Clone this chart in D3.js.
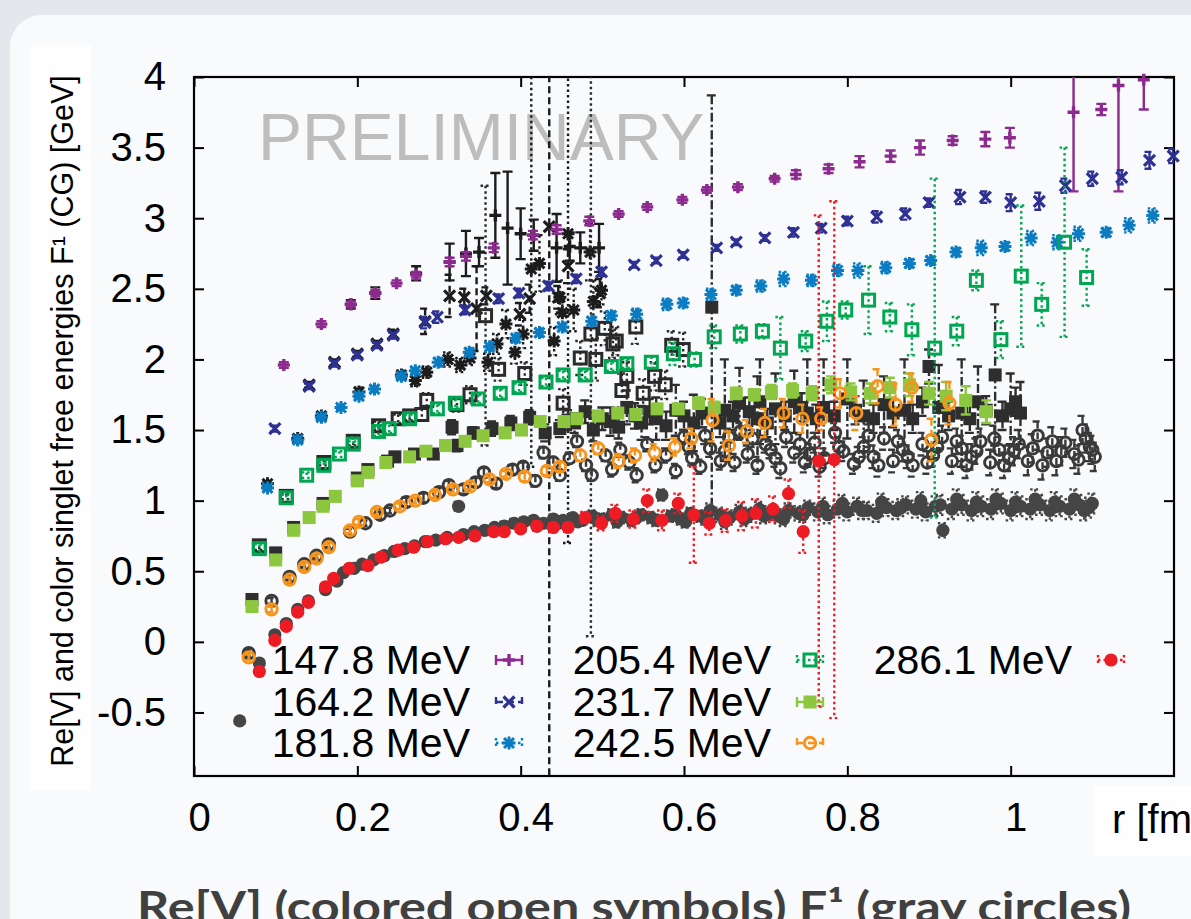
<!DOCTYPE html>
<html>
<head>
<meta charset="utf-8">
<script src="https://cdn.jsdelivr.net/npm/d3@7"></script>
<style>
  html, body { margin: 0; padding: 0; background: #e4e8ec; }
  svg { display: block; }
</style>
</head>
<body>
<svg id="chart" width="1191" height="919"></svg>
<script>
// data: [r (fm), value (GeV), error]
// Re[V], coloured symbols
const re1478 = [[.110,1.96,.02],[.156,2.25,.02],[.192,2.39,.02],[.222,2.47,.02],[.248,2.54,.02],[.272,2.60,.02],[.313,2.69,.03],[.333,2.73,.03],[.367,2.79,.03],[.415,2.88,.03],[.444,2.92,.03],[.484,2.98,.03],[.520,3.03,.02],[.555,3.08,.02],[.598,3.13,.02],[.628,3.20,.02],[.666,3.22,.02],[.711,3.28,.02],[.737,3.31,.03],[.777,3.35,.03],[.815,3.40,.04],[.853,3.44,.04],[.889,3.50,.05],[.929,3.55,.03],[.969,3.56,.05],[.999,3.57,.07],[1.077,3.75,.56],[1.111,3.77,.04],[1.132,3.94,.75],[1.163,3.98,.21]];
const re1642 = [[.099,1.51,.02],[.141,1.81,.02],[.172,1.97,.02],[.200,2.03,.02],[.224,2.10,.02],[.244,2.17,.02],[.283,2.26,.04],[.298,2.30,.04],[.332,2.35,.03],[.373,2.43,.03],[.398,2.47,.03],[.434,2.52,.03],[.468,2.57,.03],[.499,2.62,.03],[.539,2.67,.02],[.566,2.70,.02],[.599,2.74,.02],[.640,2.79,.02],[.664,2.83,.02],[.699,2.86,.02],[.734,2.90,.03],[.768,2.93,.03],[.800,2.98,.03],[.836,3.01,.04],[.871,3.03,.04],[.900,3.11,.03],[.938,3.15,.05],[.969,3.15,.04],[1.000,3.11,.06],[1.035,3.12,.06],[1.067,3.23,.05],[1.100,3.28,.05],[1.136,3.29,.05],[1.170,3.41,.06],[1.199,3.44,.05]];
const re1818 = [[.090,1.09,.02],[.127,1.43,.02],[.156,1.59,.02],[.180,1.66,.02],[.202,1.74,.02],[.221,1.79,.02],[.254,1.88,.02],[.271,1.92,.02],[.299,1.98,.03],[.337,2.05,.03],[.362,2.09,.03],[.394,2.15,.03],[.423,2.19,.03],[.451,2.23,.03],[.487,2.27,.03],[.511,2.31,.03],[.542,2.32,.04],[.579,2.39,.04],[.599,2.40,.03],[.633,2.46,.04],[.664,2.49,.03],[.694,2.52,.04],[.722,2.57,.05],[.756,2.56,.04],[.788,2.63,.04],[.813,2.63,.05],[.847,2.65,.04],[.876,2.68,.03],[.902,2.70,.03],[.933,2.76,.03],[.964,2.79,.05],[.993,2.80,.03],[1.025,2.86,.05],[1.057,2.83,.05],[1.083,2.89,.05],[1.117,2.90,.03],[1.145,2.95,.05],[1.174,3.02,.05]];
const re2054 = [[.080,0.66,.03],[.113,1.02,.02],[.138,1.18,.02],[.159,1.25,.02],[.178,1.33,.02],[.195,1.40,.02],[.226,1.49,.03],[.239,1.51,.03],[.264,1.58,.03],[.298,1.65,.03],[.320,1.69,.03],[.348,1.72,.03],[.375,1.76,.03],[.398,1.80,.03],[.431,1.84,.03],[.452,1.89,.03],[.479,1.89,.03],[.511,1.95,.03],[.530,1.97,.03],[.560,1.98,.04],[.587,2.04,.08],[.613,2.00,.05],[.637,2.16,.08],[.669,2.18,.06],[.696,2.20,.05],[.718,2.08,.22],[.749,2.13,.07],[.775,2.27,.14],[.798,2.35,.06],[.826,2.42,.24],[.852,2.30,.10],[.879,2.21,.18],[.907,2.08,1.2],[.934,2.20,.10],[.958,2.56,.07],[.988,2.14,.13],[1.013,2.59,.50],[1.038,2.39,.15],[1.066,2.83,.67],[1.093,2.58,.20]];
const re2317 = [[.071,0.25,.02],[.100,0.58,.02],[.122,0.79,.02],[.141,0.88,.02],[.158,0.96,.02],[.173,1.03,.02],[.200,1.14,.02],[.213,1.20,.02],[.235,1.27,.02],[.264,1.31,.02],[.284,1.35,.02],[.308,1.39,.02],[.332,1.42,.02],[.354,1.46,.02],[.381,1.48,.02],[.401,1.50,.02],[.424,1.56,.03],[.453,1.56,.03],[.469,1.58,.03],[.495,1.60,.03],[.519,1.62,.03],[.541,1.61,.03],[.567,1.65,.03],[.593,1.65,.03],[.618,1.69,.04],[.637,1.66,.04],[.664,1.76,.04],[.686,1.75,.04],[.707,1.77,.05],[.733,1.78,.05],[.757,1.76,.05],[.780,1.82,.06],[.804,1.77,.06],[.828,1.76,.07],[.852,1.80,.07],[.876,1.82,.08],[.900,1.76,.08],[.921,1.74,.10],[.945,1.71,.10],[.970,1.63,.08]];
const re2425 = [[.067,-0.11,.02],[.095,0.23,.02],[.117,0.44,.02],[.135,0.53,.02],[.150,0.59,.02],[.165,0.67,.02],[.191,0.79,.02],[.202,0.85,.02],[.224,0.92,.02],[.252,0.96,.02],[.271,1.00,.02],[.295,1.04,.02],[.317,1.08,.02],[.338,1.10,.02],[.362,1.15,.02],[.382,1.19,.02],[.405,1.17,.03],[.432,1.21,.03],[.448,1.24,.03],[.473,1.32,.04],[.495,1.37,.04],[.520,1.28,.05],[.540,1.32,.05],[.564,1.34,.06],[.589,1.38,.06],[.609,1.44,.07],[.635,1.57,.15],[.655,1.39,.10],[.677,1.49,.08],[.699,1.55,.10],[.722,1.62,.10],[.745,1.58,.10],[.768,1.58,.08],[.791,1.76,.10],[.811,1.62,.12],[.837,1.81,.12],[.859,1.68,.15],[.879,1.80,.10],[.903,1.43,.15],[.925,1.69,.15]];
const re2861 = [[.080,-0.21,.02],[.099,0.01,.02],[.113,0.11,.02],[.127,0.21,.02],[.140,0.28,.02],[.161,0.39,.02],[.171,0.45,.02],[.190,0.52,.02],[.213,0.54,.02],[.229,0.60,.02],[.250,0.65,.02],[.269,0.67,.02],[.286,0.71,.02],[.308,0.73,.02],[.324,0.74,.02],[.344,0.75,.02],[.367,0.78,.02],[.380,0.78,.02],[.400,0.80,.02],[.420,0.82,.03],[.440,0.81,.03],[.458,0.81,.03],[.479,0.88,.04],[.499,0.84,.05],[.516,0.91,.06],[.538,0.87,.06],[.555,1.00,.08],[.573,0.86,.07],[.593,0.98,.07],[.612,0.90,.34],[.631,0.84,.08],[.651,0.86,.08],[.671,0.89,.10],[.688,0.91,.10],[.709,0.94,.09],[.728,1.05,.10],[.746,0.78,.15],[.765,1.28,1.74],[.784,1.29,1.83]];

// F1 (CG), gray symbols
const f1478 = [[.192,2.39,.03],[.222,2.47,.04],[.272,2.61,.05],[.313,2.69,.13],[.333,2.75,.16],[.349,2.76,.10],[.369,3.02,.30],[.384,2.93,.40],[.400,2.89,.18],[.416,2.88,.11],[.444,2.79,.24],[.460,2.80,.10],[.473,2.79,.11],[.496,2.79,.17]];
const f1642 = [[.141,1.82,.02],[.172,1.98,.02],[.200,2.04,.02],[.224,2.11,.02],[.244,2.18,.03],[.283,2.27,.09],[.313,2.45,.15],[.331,2.44,.06],[.346,2.36,.30],[.358,2.45,.06],[.399,2.32,.08],[.411,2.43,.10],[.435,2.94,4.5],[.446,2.44,.08],[.458,2.66,.12],[.497,2.47,.10]];
const f1818 = [[.090,1.12,.02],[.127,1.44,.02],[.156,1.60,.02],[.202,1.77,.03],[.254,1.89,.03],[.271,1.85,.04],[.285,1.91,.04],[.311,2.00,.05],[.326,1.96,.05],[.338,2.01,.05],[.360,1.98,.06],[.371,2.11,.07],[.382,2.25,.10],[.393,2.05,.08],[.403,2.18,.10],[.413,2.64,1.4],[.423,2.68,.20],[.441,2.13,.10],[.448,2.44,.12],[.451,2.33,.10],[.458,2.89,2.19],[.465,2.35,.15],[.485,2.76,.20],[.489,2.41,.15],[.499,2.49,.10]];
const f2054 = [[.080,0.68,.03],[.113,1.03,.02],[.159,1.27,.02],[.195,1.42,.03],[.226,1.53,.03],[.250,1.58,.03],[.264,1.60,.03],[.279,1.61,.04],[.285,1.71,.05],[.322,1.68,.05],[.338,1.75,.06],[.357,2.31,.92],[.373,1.93,.08],[.405,1.90,.08],[.452,1.69,.10],[.473,2.01,.12],[.486,2.18,2.14],[.492,2.00,.15],[.503,2.22,.12],[.513,2.11,.10],[.517,2.13,.10],[.524,1.78,.12],[.530,1.88,.10],[.541,2.23,.12],[.550,1.76,.10],[.564,1.88,.10],[.577,1.82,.10],[.585,2.10,.10],[.599,2.07,.12]];
const f2317 = [[.071,0.30,.02],[.100,0.63,.02],[.122,0.81,.02],[.158,0.98,.02],[.200,1.16,.02],[.213,1.22,.02],[.237,1.28,.03],[.246,1.31,.03],[.270,1.33,.03],[.293,1.33,.03],[.316,1.52,.05],[.322,1.39,.04],[.342,1.48,.04],[.365,1.51,.05],[.388,1.55,.05],[.411,1.59,.05],[.430,1.48,.06],[.448,1.51,.06],[.458,1.57,.07],[.466,1.55,.07],[.479,1.63,.08],[.489,1.50,.08],[.500,1.58,.08],[.510,1.56,.10],[.520,1.52,.08],[.530,1.66,.12],[.540,1.60,.09],[.548,1.55,.12],[.558,1.63,.09],[.566,1.58,.15],[.578,1.53,.10],[.590,1.64,.18],[.600,1.60,.10],[.612,1.55,.20],[.622,1.62,.10],[.634,2.37,1.5],[.644,1.55,.10],[.650,1.64,.36],[.660,1.60,.10],[.668,1.69,.25],[.680,1.63,.10],[.690,1.58,.30],[.693,1.70,.30],[.702,1.55,.10],[.712,1.65,.25],[.724,1.60,.10],[.735,1.70,.22],[.744,1.66,.10],[.751,1.62,.38],[.762,1.58,.10],[.771,1.66,.34],[.784,1.60,.10],[.800,1.72,.28],[.810,1.64,.10],[.820,1.60,.25],[.832,1.58,.10],[.845,1.68,.20],[.856,1.62,.10],[.870,1.64,.36],[.880,1.58,.10],[.892,1.70,.10],[.900,1.95,.12],[.912,1.66,.30],[.924,1.60,.10],[.940,1.62,.38],[.950,1.58,.10],[.960,1.70,.25],[.970,1.64,.10],[.981,1.89,.50],[.990,1.60,.10],[1.000,1.65,.25],[1.006,1.70,.10],[1.012,1.62,.22]];
const f2425 = [[.067,-0.08,.02],[.095,0.29,.02],[.117,0.46,.02],[.135,0.55,.02],[.150,0.61,.02],[.165,0.69,.02],[.191,0.78,.02],[.210,0.84,.02],[.228,0.90,.02],[.240,0.93,.02],[.260,0.99,.03],[.281,1.02,.03],[.300,1.06,.03],[.312,1.11,.03],[.330,1.08,.03],[.345,1.13,.03],[.355,1.20,.03],[.370,1.12,.03],[.390,1.22,.03],[.403,1.24,.03],[.418,1.14,.04],[.428,1.34,.04],[.440,1.27,.04],[.448,1.18,.04],[.460,1.30,.04],[.469,1.42,.04],[.480,1.25,.04],[.487,1.18,.04],[.504,1.32,.04],[.512,1.22,.05],[.522,1.36,.05],[.533,1.27,.05],[.542,1.18,.05],[.555,1.40,.05],[.565,1.25,.05],[.578,1.32,.05],[.590,1.21,.05],[.600,1.45,.05],[.606,1.38,.05],[.610,1.30,.05],[.620,1.24,.05],[.626,1.46,.06],[.632,1.37,.06],[.645,1.28,.06],[.650,1.35,.06],[.655,1.45,.06],[.662,1.27,.06],[.669,1.49,.06],[.678,1.33,.06],[.684,1.44,.06],[.690,1.25,.06],[.700,1.40,.06],[.706,1.36,.06],[.712,1.30,.06],[.718,1.23,.07],[.725,1.45,.07],[.735,1.34,.07],[.742,1.40,.07],[.748,1.27,.07],[.754,1.33,.07],[.760,1.41,.07],[.766,1.24,.07],[.772,1.30,.07],[.785,1.48,.07],[.790,1.38,.07],[.795,1.35,.07],[.808,1.26,.07],[.814,1.31,.07],[.820,1.38,.07],[.826,1.46,.08],[.832,1.31,.08],[.838,1.25,.08],[.845,1.44,.08],[.856,1.28,.08],[.862,1.42,.08],[.868,1.36,.08],[.874,1.31,.08],[.880,1.25,.08],[.892,1.40,.08],[.898,1.27,.08],[.905,1.32,.08],[.910,1.38,.08],[.916,1.45,.08],[.928,1.28,.09],[.934,1.42,.09],[.940,1.37,.09],[.946,1.25,.09],[.952,1.31,.09],[.958,1.35,.09],[.963,1.42,.09],[.975,1.27,.09],[.980,1.44,.09],[.986,1.36,.09],[.992,1.25,.09],[.998,1.30,.09],[1.004,1.35,.10],[1.010,1.40,.10],[1.021,1.28,.10],[1.027,1.37,.10],[1.033,1.46,.10],[1.039,1.25,.10],[1.045,1.34,.10],[1.051,1.42,.10],[1.056,1.28,.10],[1.062,1.35,.10],[1.067,1.41,.10],[1.078,1.33,.10],[1.083,1.29,.10],[1.088,1.50,.10],[1.092,1.44,.10],[1.097,1.38,.10],[1.100,1.36,.10],[1.103,1.31,.10]];
const f2861 = [[.056,-0.56,.02],[.080,-0.15,.02],[.099,0.05,.02],[.113,0.13,.02],[.127,0.23,.02],[.140,0.29,.02],[.161,0.37,.02],[.175,0.43,.02],[.183,0.49,.02],[.196,0.52,.02],[.206,0.55,.02],[.220,0.58,.02],[.233,0.61,.02],[.245,0.64,.02],[.258,0.66,.02],[.270,0.68,.02],[.283,0.71,.02],[.296,0.72,.02],[.310,0.74,.02],[.324,0.96,.03],[.330,0.76,.02],[.343,0.78,.02],[.356,0.79,.02],[.368,0.81,.02],[.380,0.82,.03],[.392,0.84,.03],[.404,0.85,.03],[.416,0.86,.03],[.420,0.82,.03],[.428,0.84,.03],[.440,0.87,.03],[.446,0.84,.03],[.452,0.86,.03],[.464,0.88,.03],[.470,0.85,.03],[.476,0.86,.03],[.488,0.89,.04],[.494,0.86,.04],[.500,0.87,.04],[.512,0.90,.04],[.518,0.85,.04],[.524,0.88,.04],[.536,0.86,.04],[.542,0.88,.04],[.548,0.90,.04],[.560,0.88,.04],[.566,0.86,.04],[.573,1.04,.04],[.584,0.89,.04],[.590,0.90,.04],[.596,0.87,.04],[.602,0.85,.04],[.608,0.91,.04],[.620,0.89,.04],[.626,0.87,.04],[.632,0.93,.05],[.644,0.90,.05],[.650,0.85,.05],[.656,0.88,.05],[.668,0.92,.05],[.674,0.87,.05],[.680,0.90,.05],[.692,0.94,.05],[.698,0.89,.05],[.704,0.91,.05],[.716,0.89,.05],[.722,0.87,.05],[.728,0.93,.05],[.740,0.91,.05],[.746,0.90,.05],[.752,0.95,.05],[.764,0.92,.06],[.770,0.96,.06],[.776,0.90,.06],[.788,0.94,.06],[.794,0.98,.06],[.800,0.92,.06],[.812,0.96,.06],[.818,0.93,.06],[.824,0.93,.06],[.836,0.91,.06],[.842,0.99,.06],[.848,0.95,.06],[.860,0.93,.06],[.866,0.95,.06],[.872,0.97,.06],[.884,0.94,.06],[.890,1.00,.06],[.896,0.92,.06],[.908,0.96,.07],[.914,0.97,.07],[.917,0.79,.05],[.928,0.94,.07],[.934,1.01,.07],[.940,0.97,.07],[.952,0.93,.07],[.958,0.99,.07],[.964,0.96,.07],[.976,0.94,.07],[.982,1.01,.07],[.988,0.98,.07],[1.000,0.93,.07],[1.006,0.99,.07],[1.012,0.96,.07],[1.024,0.94,.07],[1.030,1.01,.07],[1.036,0.97,.07],[1.048,0.93,.07],[1.054,0.99,.07],[1.060,0.96,.07],[1.072,0.94,.07],[1.078,1.01,.07],[1.084,0.97,.07],[1.090,0.93,.07],[1.096,0.95,.07],[1.100,0.98,.07]];

const tempLabels = ['147.8 MeV', '164.2 MeV', '181.8 MeV', '205.4 MeV', '231.7 MeV', '242.5 MeV', '286.1 MeV'];
const xTicks = [0, 0.2, 0.4, 0.6, 0.8, 1];
const yTicks = [-0.5, 0, 0.5, 1, 1.5, 2, 2.5, 3, 3.5, 4];

// styles
const colored = [
  { data: re1478, color: '#8c2a8e', mark: 'plus', dash: 'solid' },
  { data: re1642, color: '#2e3192', mark: 'cross', dash: 'dashed' },
  { data: re1818, color: '#0b7cc1', mark: 'star', dash: 'dotted' },
  { data: re2054, color: '#00a651', mark: 'osquare', dash: 'dotted' },
  { data: re2317, color: '#8dc63f', mark: 'fsquare', dash: 'solid' },
  { data: re2425, color: '#f7941d', mark: 'ocircle', dash: 'dashed' },
  { data: re2861, color: '#ed1c24', mark: 'fcircle', dash: 'dotted' }
];
const gray = [
  { data: f1478, color: '#1c1c1c', mark: 'plus', dash: 'solid' },
  { data: f1642, color: '#1c1c1c', mark: 'cross', dash: 'dashed' },
  { data: f1818, color: '#1c1c1c', mark: 'star', dash: 'dotted' },
  { data: f2054, color: '#2a2a2a', mark: 'osquare', dash: 'dotted' },
  { data: f2317, color: '#2e2e2e', mark: 'fsquare', dash: 'dashdot' },
  { data: f2425, color: '#3a3a3a', mark: 'ocircle', dash: 'dashed' },
  { data: f2861, color: '#454545', mark: 'fcircle', dash: 'dotted' }
];
const dashes = { solid: null, dashed: '7,4', dotted: '2.5,3', dashdot: '9,3,2.5,3' };

const svg = d3.select('#chart');
const W = 1191, H = 919;
const plotL = 194, plotR = 1174, plotT = 77, plotB = 776;
const font = "'Liberation Sans', Arial, sans-serif";

const x = d3.scaleLinear().domain([0, 1.2]).range([plotL, plotR]);
const y = d3.scaleLinear().domain([-0.95, 4]).range([plotB, plotT]);

// slide background
svg.append('rect').attr('width', W).attr('height', H).attr('fill', '#e4e8ec');
svg.append('rect').attr('x', 10).attr('y', 15).attr('width', 1300).attr('height', 1000)
  .attr('rx', 32).attr('fill', '#f8fafc');
svg.append('rect').attr('x', 30).attr('y', 45).attr('width', 61).attr('height', 745).attr('fill', '#fefefe');
svg.append('rect').attr('x', 1094).attr('y', 786).attr('width', 110).attr('height', 70).attr('fill', '#fefefe');

svg.append('text')
  .attr('x', 258).attr('y', 160)
  .attr('font-family', font).attr('font-size', 66)
  .attr('fill', '#bdbdbd')
  .text('PRELIMINARY');

// axes
const axisX = d3.axisBottom(x).tickValues(xTicks).tickSizeInner(-10).tickSizeOuter(0)
  .tickPadding(27).tickFormat(d => String(+d.toFixed(1)));
const gx = svg.append('g').attr('transform', `translate(0,${plotB})`).call(axisX);
gx.selectAll('text').attr('dx', 5);

const axisY = d3.axisLeft(y).tickValues(yTicks).tickSizeInner(-10).tickSizeOuter(0)
  .tickPadding(28).tickFormat(d => String(d));
svg.append('g').attr('transform', `translate(${plotL},0)`).call(axisY);

svg.append('g').attr('transform', `translate(0,${plotT})`)
  .call(d3.axisTop(x).tickValues(xTicks).tickSizeInner(-10).tickSizeOuter(0).tickFormat(''));
svg.append('g').attr('transform', `translate(${plotR},0)`)
  .call(d3.axisRight(y).tickValues(yTicks).tickSizeInner(-10).tickSizeOuter(0).tickFormat(''));

svg.selectAll('.tick line').attr('stroke', '#000').attr('stroke-width', 2);
svg.selectAll('.domain').remove();
svg.selectAll('.tick text').attr('font-family', font).attr('font-size', 40).attr('fill', '#000');

svg.append('rect').attr('x', plotL).attr('y', plotT)
  .attr('width', plotR - plotL).attr('height', plotB - plotT)
  .attr('fill', 'none').attr('stroke', '#000').attr('stroke-width', 2.2);

svg.append('clipPath').attr('id', 'plotclip')
  .append('rect').attr('x', plotL).attr('y', plotT)
  .attr('width', plotR - plotL).attr('height', plotB - plotT);

// markers
function drawMarker(g, mark, color) {
  if (mark === 'plus') {
    g.append('path').attr('d', 'M-6,0H6M0,-6V6')
      .attr('stroke', color).attr('stroke-width', 3.4).attr('fill', 'none');
  } else if (mark === 'cross') {
    g.append('path').attr('d', 'M-5.5,-5.5L5.5,5.5M-5.5,5.5L5.5,-5.5')
      .attr('stroke', color).attr('stroke-width', 3.2).attr('fill', 'none');
  } else if (mark === 'star') {
    g.append('path').attr('d', 'M-6.5,0H6.5M0,-6.5V6.5M-5,-5L5,5M-5,5L5,-5')
      .attr('stroke', color).attr('stroke-width', 3).attr('fill', 'none');
  } else if (mark === 'osquare') {
    g.append('rect').attr('x', -6).attr('y', -6).attr('width', 12).attr('height', 12)
      .attr('stroke', color).attr('stroke-width', 3).attr('fill', 'none');
  } else if (mark === 'fsquare') {
    g.append('rect').attr('x', -6.5).attr('y', -6.5).attr('width', 13).attr('height', 13)
      .attr('fill', color);
  } else if (mark === 'ocircle') {
    g.append('circle').attr('r', 5.7)
      .attr('stroke', color).attr('stroke-width', 2.9).attr('fill', 'none');
  } else {
    g.append('circle').attr('r', 6.6).attr('fill', color);
  }
}

function drawSeries(s) {
  const g = svg.append('g');
  g.append('g').attr('clip-path', 'url(#plotclip)')
    .selectAll('path')
    .data(s.data)
    .join('path')
    .attr('d', d => {
      const px = x(d[0]);
      const y1 = y(d[1] + d[2]);
      const y2 = y(d[1] - d[2]);
      return `M${px - 5},${y1}H${px + 5}M${px},${y1}V${y2}M${px - 5},${y2}H${px + 5}`;
    })
    .attr('fill', 'none')
    .attr('stroke', s.color)
    .attr('stroke-width', 2.4)
    .attr('stroke-dasharray', dashes[s.dash]);

  g.selectAll('g.pt')
    .data(s.data)
    .join('g')
    .attr('class', 'pt')
    .attr('transform', d => `translate(${x(d[0])},${y(d[1])})`)
    .each(function () { drawMarker(d3.select(this), s.mark, s.color); });
}

gray.forEach(drawSeries);
colored.forEach(drawSeries);

// legend
const legendPos = [
  [470, 674], [470, 716], [470, 757],
  [771, 674], [771, 716], [771, 757],
  [1072, 674]
];
colored.forEach((s, i) => {
  const [tx, ty] = legendPos[i];
  svg.append('text')
    .attr('x', tx).attr('y', ty)
    .attr('text-anchor', 'end')
    .attr('font-family', font).attr('font-size', 41)
    .attr('fill', '#000')
    .text(tempLabels[i]);
  const cx = tx + 39, cy = ty - 14;
  const g = svg.append('g').attr('transform', `translate(${cx},${cy})`);
  g.append('path')
    .attr('d', 'M-13,0H13M-13,-5V5M13,-5V5')
    .attr('fill', 'none').attr('stroke', s.color).attr('stroke-width', 2.4)
    .attr('stroke-dasharray', dashes[s.dash]);
  drawMarker(g, s.mark, s.color);
});

// titles
svg.append('text')
  .attr('transform', 'translate(73,421) rotate(-90)')
  .attr('text-anchor', 'middle')
  .attr('font-family', font).attr('font-size', 30.5)
  .attr('fill', '#000')
  .text('Re[V] and color singlet free energies F¹ (CG) [GeV]');

svg.append('text')
  .attr('x', 1112).attr('y', 833)
  .attr('font-family', font).attr('font-size', 40)
  .attr('fill', '#000')
  .text('r [fm]');

svg.append('text')
  .attr('x', 137).attr('y', 922)
  .attr('font-family', "Lato, 'Open Sans', sans-serif").attr('font-weight', 700)
  .attr('font-size', 42)
  .attr('fill', '#404040')
  .attr('textLength', 994).attr('lengthAdjust', 'spacingAndGlyphs')
  .text('Re[V] (colored open symbols) F¹ (gray circles)');
</script>
</body>
</html>
